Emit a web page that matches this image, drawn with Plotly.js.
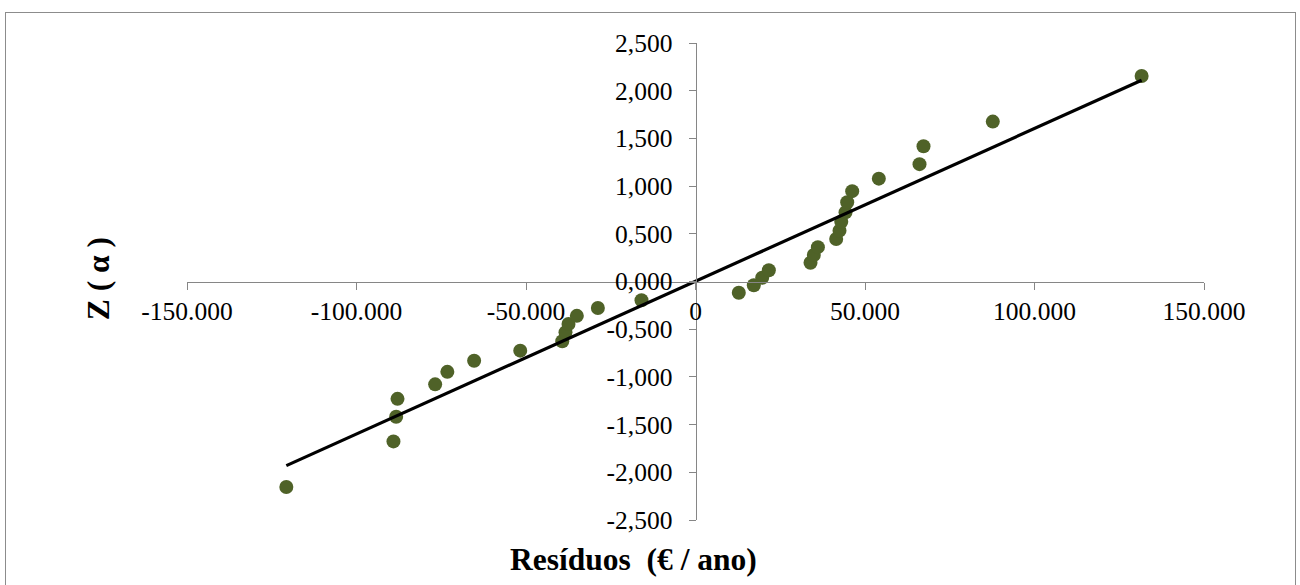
<!DOCTYPE html>
<html>
<head>
<meta charset="utf-8">
<script src="https://cdn.plot.ly/plotly-3.0.1.min.js"></script>
<style>
  html, body { margin: 0; padding: 0; background: #ffffff; }
  #wrap { position: relative; width: 1300px; height: 585px; overflow: hidden; }
  #chart { position: absolute; left: 0; top: 0; width: 1300px; height: 585px; }
  #frame { position: absolute; left: 5px; top: 12px; width: 1289px; height: 600px;
           border: 1px solid #8c8c8c; pointer-events: none; }
</style>
</head>
<body>
<div id="wrap">
  <div id="chart"></div>
  <div id="frame"></div>
</div>
<script>
// Residuals (€ / ano) and normal scores Z(α)
const residuals = [-120700, -89100, -88300, -87900, -76800, -73200, -65300, -51700,
                   -39300, -38350, -37460, -35000, -28800, -15930, 12770, 17200,
                   19670, 21630, 33930, 34900, 36100, 41500, 42480, 43000,
                   44250, 44750, 46220, 54080, 66080, 67260, 87700, 131600];
const zScores = [-2.154, -1.676, -1.418, -1.230, -1.078, -0.947, -0.831, -0.725,
                 -0.626, -0.533, -0.445, -0.360, -0.278, -0.197, -0.118, -0.039,
                 0.039, 0.118, 0.197, 0.278, 0.360, 0.445, 0.533, 0.626,
                 0.725, 0.831, 0.947, 1.078, 1.230, 1.418, 1.676, 2.154];

// Reference line
const lineX = [-120700, 131600];
const lineY = [-1.93, 2.11];

// Tick labels
const xTickVals = [-150000, -100000, -50000, 0, 50000, 100000, 150000];
const xTickText = ['-150.000', '-100.000', '-50.000', '0', '50.000', '100.000', '150.000'];
const yTickVals = [-2.5, -2, -1.5, -1, -0.5, 0, 0.5, 1, 1.5, 2, 2.5];
const yTickText = ['-2,500', '-2,000', '-1,500', '-1,000', '-0,500', '0,000',
                   '0,500', '1,000', '1,500', '2,000', '2,500'];

const serif = 'Liberation Serif';
const axisGrey = '#868686';

const traces = [
  {
    x: residuals, y: zScores, type: 'scatter', mode: 'markers',
    marker: { color: '#4f6228', size: 14 },
    hoverinfo: 'x+y', showlegend: false
  },
  {
    x: lineX, y: lineY, type: 'scatter', mode: 'lines',
    line: { color: '#000000', width: 3.2 },
    hoverinfo: 'skip', showlegend: false
  }
];

const layout = {
  width: 1300, height: 585,
  margin: { l: 187, r: 96, t: 43, b: 65 },
  paper_bgcolor: '#ffffff', plot_bgcolor: '#ffffff',
  font: { family: serif, size: 25.5, color: '#000000' },
  showlegend: false,
  xaxis: {
    range: [-150000, 150000],
    tickvals: xTickVals, ticktext: xTickText,
    showgrid: false, zeroline: false,
    showline: true, linecolor: axisGrey, linewidth: 1,
    ticks: 'outside', ticklen: 7, tickcolor: axisGrey, tickwidth: 1,
    anchor: 'free', position: 0.5,
    tickfont: { family: serif, size: 25.5, color: '#000000' },
    fixedrange: true
  },
  yaxis: {
    range: [-2.5, 2.5],
    tickvals: yTickVals, ticktext: yTickText,
    showgrid: false, zeroline: false,
    showline: true, linecolor: axisGrey, linewidth: 1,
    ticks: 'outside', ticklen: 7, tickcolor: axisGrey, tickwidth: 1,
    anchor: 'free', position: 0.5,
    ticklabelstandoff: 11,
    tickfont: { family: serif, size: 25.5, color: '#000000' },
    fixedrange: true
  },
  annotations: [
    {
      text: '<b>Resíduos  (€ / ano)</b>',
      xref: 'paper', yref: 'paper', x: 0.4395, y: -0.082,
      xanchor: 'center', yanchor: 'middle', showarrow: false,
      font: { family: serif, size: 31.5, color: '#000000' }
    },
    {
      text: '<b>Z ( α )</b>',
      xref: 'paper', yref: 'paper', x: -0.0875, y: 0.505,
      xanchor: 'center', yanchor: 'middle', showarrow: false, textangle: -90,
      font: { family: serif, size: 31.5, color: '#000000' }
    }
  ]
};

Plotly.newPlot('chart', traces, layout, { displayModeBar: false, staticPlot: true });
</script>
</body>
</html>
